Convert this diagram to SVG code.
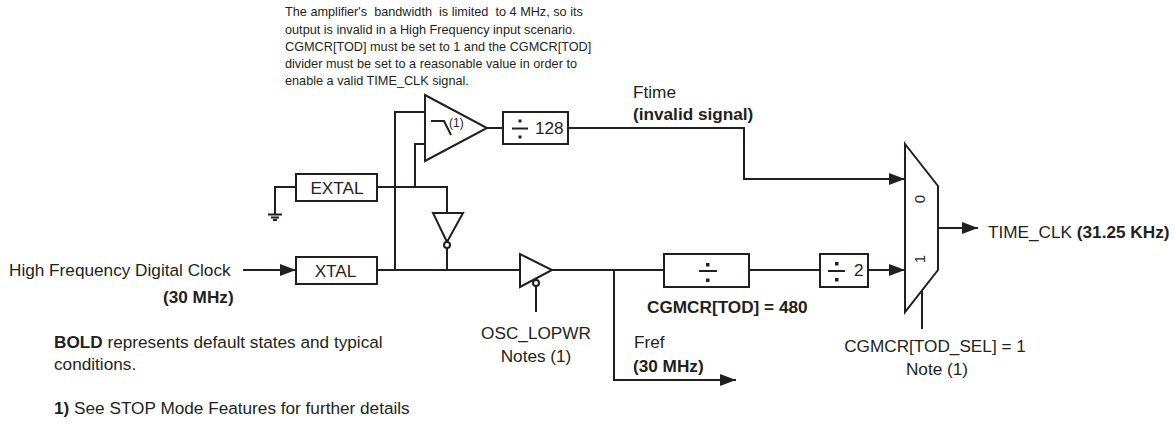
<svg xmlns="http://www.w3.org/2000/svg" width="1176" height="423" viewBox="0 0 1176 423">
<style>
text{font-family:"Liberation Sans",Arial,sans-serif;font-size:17.2px;fill:#231f20}
.s{font-size:12.7px;white-space:pre}
.t{font-size:12px}
.z{font-size:15px;text-anchor:middle}
.b{font-weight:bold}
.m{text-anchor:middle}
.w{fill:none;stroke:#231f20;stroke-width:2}
.n{fill:#fff;stroke:#231f20;stroke-width:2}
.d{fill:#231f20}
</style>
<defs>
<marker id="a" markerUnits="userSpaceOnUse" markerWidth="16" markerHeight="14" refX="16" refY="6" orient="auto"><path d="M0 0L16 6L0 12Z" fill="#231f20"/></marker>
</defs>
<rect width="1176" height="423" fill="#fff"/>
<g id="connectors">
<path class="w" d="M377 187H447V213"/>
<path class="w" d="M296 187H275V214"/>
<path class="w" d="M268 214.500H282M271 217.500H279M273 220H277"/>
<path class="w" d="M425 112H395V270"/>
<path class="w" d="M425 144H415V187"/>
<path class="w" d="M377 270H520"/>
<path class="w" d="M447 248V270"/>
<path class="w" d="M487 128H503"/>
<path class="w" d="M552 270H664"/>
<path class="w" d="M536 286V312"/>
<path class="w" d="M749 270H820"/>
<path class="w" d="M922 291V329"/>
<path class="w" marker-end="url(#a)" d="M243 270H296"/>
<path class="w" marker-end="url(#a)" d="M568 128H744V179H905"/>
<path class="w" marker-end="url(#a)" d="M868 270H905"/>
<path class="w" marker-end="url(#a)" d="M614 270V380H736"/>
<path class="w" marker-end="url(#a)" d="M938 228H978"/>
</g>
<g id="note"><text class="s" x="285" y="16">The amplifier's  bandwidth  is limited  to 4 MHz, so its</text>
<text class="s" x="285" y="33.500">output is invalid in a High Frequency input scenario.</text>
<text class="s" x="285" y="51">CGMCR[TOD] must be set to 1 and the CGMCR[TOD]</text>
<text class="s" x="285" y="68">divider must be set to a reasonable value in order to</text>
<text class="s" x="285" y="85">enable a valid TIME_CLK signal.</text></g>
<g id="amp"><path class="n" d="M425 95V161L487 128Z"/><path class="w" d="M431 121H444L451 135"/><text class="t" x="449" y="127">(1)</text></g>
<g id="div128"><rect class="n" x="503" y="112" width="65" height="32"/><path class="w" d="M512 128.500H528"/><rect class="d" x="518.500" y="119.500" width="3" height="3"/><rect class="d" x="518.500" y="135.500" width="3" height="3"/><text x="535" y="134">128</text></g>
<g id="extal"><rect class="n" x="296" y="174" width="81" height="27"/><text class="m" x="337" y="193.500">EXTAL</text></g>
<g id="xtal"><rect class="n" x="296" y="257" width="81" height="27"/><text class="m" x="335.500" y="276.500">XTAL</text></g>
<g id="inverter"><path class="n" d="M433 213H463L447 242Z"/><circle class="n" cx="447" cy="245" r="3"/></g>
<g id="buffer"><path class="n" d="M520 254V287L552 270Z"/><circle class="n" cx="536" cy="283" r="3"/></g>
<g id="divider"><rect class="n" x="664" y="254" width="85" height="33"/><path class="w" d="M699 271H717"/><rect class="d" x="706" y="263" width="3.500" height="3.500"/><rect class="d" x="706" y="278.500" width="3.500" height="3.500"/></g>
<g id="div2"><rect class="n" x="820" y="254" width="48" height="33"/><path class="w" d="M828 271H845"/><rect class="d" x="835" y="262" width="3.500" height="3.500"/><rect class="d" x="835" y="278" width="3.500" height="3.500"/><text x="854" y="276">2</text></g>
<g id="mux"><path class="n" d="M905 144L938 186V270L905 312Z"/><text class="z" transform="translate(925 199) rotate(-90)">0</text><text class="z" transform="translate(925 259) rotate(-90)">1</text></g>
<g id="labels">
<text x="633" y="98">Ftime</text><text class="b" x="633" y="120">(invalid signal)</text>
<text x="9" y="276">High Frequency Digital Clock</text>
<text class="b" x="163" y="303">(30 MHz)</text>
<text x="54" y="348"><tspan class="b">BOLD</tspan> represents default states and typical</text>
<text x="54" y="370">conditions.</text>
<text x="54" y="414"><tspan class="b">1)</tspan> See STOP Mode Features for further details</text>
<text class="m" x="536" y="339">OSC_LOPWR</text>
<text class="m" x="536" y="362">Notes (1)</text>
<text class="b" x="647" y="313">CGMCR[TOD] = 480</text>
<text x="634" y="348">Fref</text>
<text class="b" x="633" y="372">(30 MHz)</text>
<text class="m" x="935" y="352">CGMCR[TOD_SEL] = 1</text>
<text class="m" x="937" y="375">Note (1)</text>
<text x="988" y="238">TIME_CLK <tspan class="b">(31.25 KHz)</tspan></text>
</g>
</svg>
